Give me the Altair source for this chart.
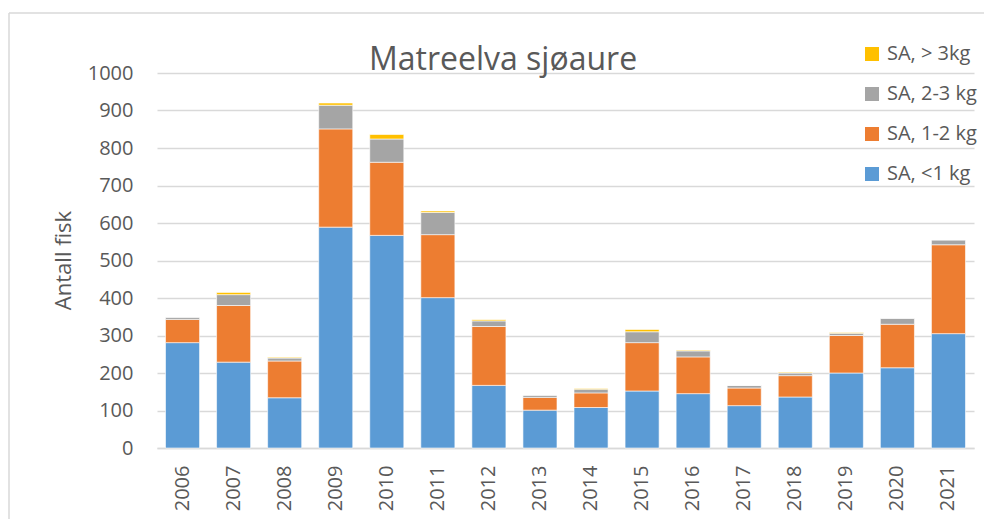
import altair as alt
import pandas as pd

years = [str(y) for y in range(2006, 2022)]
sa_lt1 = [281, 229, 134, 589, 567, 401, 167, 101, 108, 152, 145, 113, 136, 200, 214, 305]
sa_1_2 = [62, 151, 98, 262, 195, 168, 157, 34, 39, 129, 98, 47, 57, 100, 116, 237]
sa_2_3 = [6, 29, 8, 63, 62, 59, 15, 6, 10, 29, 16, 7, 7, 6, 16, 13]
sa_gt3 = [0, 6, 2, 6, 12, 4, 3, 0, 2, 6, 2, 0, 2, 2, 0, 0]

series_names = ["SA, <1 kg", "SA, 1-2 kg", "SA, 2-3 kg", "SA, > 3kg"]
series_values = [sa_lt1, sa_1_2, sa_2_3, sa_gt3]
series_colors = ["#5B9BD5", "#ED7D31", "#A5A5A5", "#FFC000"]

rows = []
for idx, (name, vals) in enumerate(zip(series_names, series_values)):
    for y, v in zip(years, vals):
        rows.append({"year": y, "size": name, "value": v, "idx": idx})
df = pd.DataFrame(rows)

FONT = "Open Sans"
TXT = "#595959"
GRID = "#D9D9D9"
W, H = 817, 375

bars = alt.Chart(df).mark_bar(stroke="white", strokeWidth=0.6).encode(
    x=alt.X("year:O", sort=years,
            scale=alt.Scale(paddingInner=0.333, paddingOuter=0.1667),
            axis=alt.Axis(title=None, labelAngle=270, labelFontSize=20, labelFont=FONT,
                          labelColor=TXT, labelPadding=17, ticks=False,
                          domainColor=GRID, domainWidth=1.5, grid=False)),
    y=alt.Y("value:Q", stack="zero",
            scale=alt.Scale(domain=[0, 1000], nice=False),
            axis=alt.Axis(title="Antall fisk", values=list(range(0, 1001, 100)), format="d",
                          gridColor=GRID, gridWidth=1.5, domain=False, ticks=False,
                          labelPadding=24, labelFontSize=20, labelFont=FONT, labelColor=TXT,
                          titleFont=FONT, titleFontSize=22, titleColor=TXT,
                          titleFontWeight="normal", titleAngle=270, titleAlign="center",
                          titleBaseline="middle", titleX=-94, titleY=187)),
    color=alt.Color("size:N",
                    scale=alt.Scale(domain=series_names[::-1], range=series_colors[::-1]),
                    legend=alt.Legend(title=None, orient="none", legendX=705, legendY=-29,
                                      symbolType="square", symbolSize=196, symbolStrokeWidth=0,
                                      labelFontSize=20, labelFont=FONT, labelColor=TXT,
                                      rowPadding=20, labelOffset=5)),
    order=alt.Order("idx:Q", sort="ascending"),
)

one = pd.DataFrame({"t": ["Matreelva sjøaure"]})
title = alt.Chart(one).mark_text(font=FONT, fontSize=32, color=TXT, align="center",
                                 baseline="alphabetic").encode(
    text="t:N", x=alt.value(346), y=alt.value(-3))

border_top = alt.Chart(one).mark_rule(color=GRID, strokeWidth=1.5).encode(
    x=alt.value(-148), x2=alt.value(W + 12), y=alt.value(-60))
border_left = alt.Chart(one).mark_rule(color=GRID, strokeWidth=1.5).encode(
    x=alt.value(-148), y=alt.value(-60), y2=alt.value(H + 80))

chart = alt.layer(border_top, border_left, bars, title).properties(
    width=W, height=H,
    autosize=alt.AutoSizeParams(type="none"),
    padding={"left": 149, "top": 65, "right": 10, "bottom": 71},
    background="white",
).configure_view(stroke=None)

chart.save("out.html", embed_options={"renderer": "svg", "actions": False})
